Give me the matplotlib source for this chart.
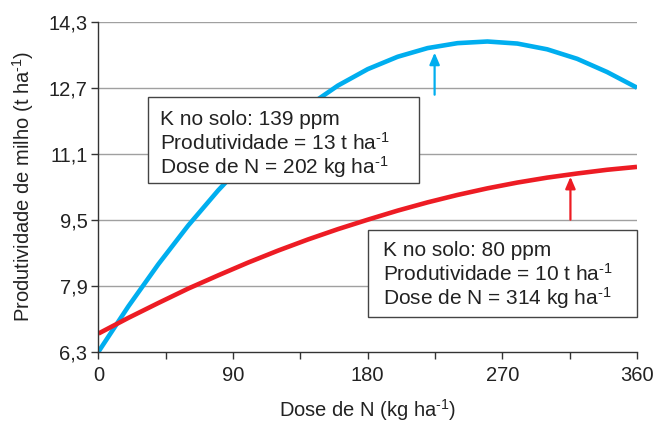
import matplotlib
matplotlib.use("Agg")
import matplotlib.pyplot as plt
from matplotlib.patches import Rectangle

plt.rcParams['font.family'] = ['Liberation Sans', 'DejaVu Sans']
plt.rcParams['mathtext.fontset'] = 'custom'
plt.rcParams['mathtext.rm'] = 'Liberation Sans'
plt.rcParams['mathtext.it'] = 'Liberation Sans'

# dose de N (kg/ha) and yields
dose = [0, 20, 40, 60, 80, 100, 120, 140, 160, 180, 200, 220, 240, 260, 280, 300, 320, 340, 360]
k139 = [6.30, 7.40, 8.42, 9.36, 10.21, 10.98, 11.66, 12.25, 12.75, 13.15, 13.45, 13.66,
        13.78, 13.82, 13.77, 13.63, 13.40, 13.08, 12.70]
k80 = [6.74, 7.12, 7.48, 7.83, 8.15, 8.46, 8.75, 9.02, 9.27, 9.50, 9.72, 9.92,
       10.10, 10.26, 10.40, 10.52, 10.62, 10.71, 10.78]

xticks = [0, 90, 180, 270, 360]
xminor = [45, 135, 225, 315]
yticks = [6.3, 7.9, 9.5, 11.1, 12.7, 14.3]
ylabels = ['6,3', '7,9', '9,5', '11,1', '12,7', '14,3']

sup = '$^{\\mathregular{\u20101}}$'
box139 = ['K no solo: 139 ppm', 'Produtividade = 13 t ha' + sup, 'Dose de N = 202 kg ha' + sup]
box80 = ['K no solo: 80 ppm', 'Produtividade = 10 t ha' + sup, 'Dose de N = 314 kg ha' + sup]

blue = '#00AEEF'
red = '#ED1C24'
dark = '#333333'
txt = '#222222'
fs = 14.5

fig = plt.figure(figsize=(6.54, 4.23), dpi=100)
ax = fig.add_axes([0.1506, 0.1686, 0.8234, 0.7801])

ax.plot(dose, k139, color=blue, lw=3.3, zorder=2, solid_capstyle='butt', solid_joinstyle='round')
ax.plot(dose, k80, color=red, lw=3.3, zorder=2, solid_capstyle='butt', solid_joinstyle='round')

ax.set_xlim(0, 360)
ax.set_ylim(6.3, 14.3)
ax.set_xticks(xticks)
ax.set_xticks(xminor, minor=True)
ax.set_yticks(yticks, ylabels)
for y in yticks[1:]:
    ax.axhline(y, color='#a0a0a0', lw=1.0, zorder=1)

for s in ['top', 'right']:
    ax.spines[s].set_visible(False)
for s in ['left', 'bottom']:
    ax.spines[s].set_color(dark)
    ax.spines[s].set_linewidth(1.0)
ax.tick_params(which='both', direction='out', length=5, width=1, color=dark,
               labelsize=fs, pad=3, labelcolor=txt)
ax.tick_params(axis='x', pad=5)

ax.set_xlabel('Dose de N (kg ha' + sup + ')', fontsize=fs, color=txt, labelpad=9)
ax.set_ylabel('Produtividade de milho (t ha' + sup + ')', fontsize=fs, color=txt, labelpad=9)

# arrows
ax.annotate('', xy=(224.7, 13.55), xytext=(224.7, 12.53),
            arrowprops=dict(arrowstyle='-|>,head_length=0.7,head_width=0.3', color=blue, lw=1.6,
                            shrinkA=0, shrinkB=0), zorder=3)
ax.annotate('', xy=(315.5, 10.54), xytext=(315.5, 9.5),
            arrowprops=dict(arrowstyle='-|>,head_length=0.7,head_width=0.3', color=red, lw=1.6,
                            shrinkA=0, shrinkB=0), zorder=3)

# text boxes
ax.add_patch(Rectangle((33.1, 10.39), 181.0, 2.08, facecolor='white', edgecolor='#444444',
                       lw=1.0, zorder=4, clip_on=False))
for i, t in enumerate(box139):
    ax.text(41.0, 11.79 - 0.586 * i, t, fontsize=15, color=txt, va='baseline', zorder=5)

ax.add_patch(Rectangle((180.5, 7.15), 179.5, 2.11, facecolor='white', edgecolor='#444444',
                       lw=1.0, zorder=4, clip_on=False))
for i, t in enumerate(box80):
    ax.text(189.9, 8.62 - 0.59 * i, t, fontsize=15, color=txt, va='baseline', zorder=5)

fig.savefig('out.png', dpi=100)
